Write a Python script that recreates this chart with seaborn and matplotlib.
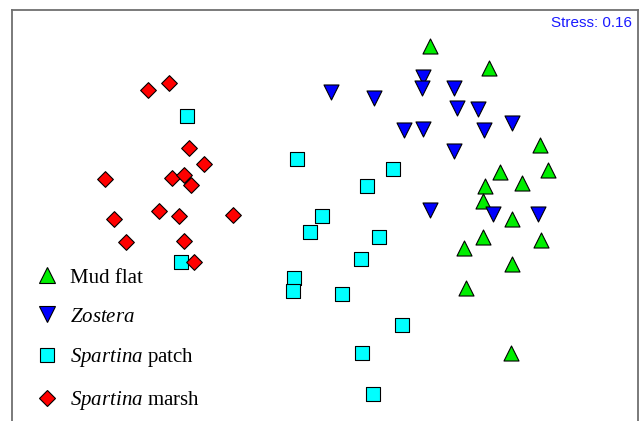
import matplotlib
matplotlib.use("Agg")
import matplotlib.pyplot as plt
from matplotlib.lines import Line2D
import seaborn as sns
import pandas as pd

# ─── NMDS ordination scores ──────────────────────────────────────────────────
GROUPS = ["Mud flat", "Zostera", "Spartina patch", "Spartina marsh"]

mud_x = [1.10, 1.69, 2.20, 2.28, 1.80, 2.02, 1.65, 1.63, 1.92, 1.63, 2.21, 1.44, 1.92, 1.46, 1.91]
mud_y = [1.74, 1.52, 0.75, 0.50, 0.48, 0.37, 0.34, 0.19, 0.01, -0.17, -0.20, -0.28, -0.44, -0.68, -1.33]

zos_x = [0.11, 0.54, 1.03, 1.02, 1.34, 1.37, 1.58, 1.92, 0.84, 1.03, 1.64, 1.34, 1.10, 1.73, 2.18]
zos_y = [1.28, 1.22, 1.43, 1.32, 1.32, 1.12, 1.11, 0.97, 0.90, 0.91, 0.90, 0.69, 0.10, 0.06, 0.06]

patch_x = [-1.33, -0.23, 0.73, 0.47, 0.02, -0.10, 0.59, 0.41, -0.26, -0.27, 0.22, -1.39, 0.82, 0.42, 0.53]
patch_y = [1.04, 0.61, 0.51, 0.34, 0.04, -0.12, -0.17, -0.39, -0.58, -0.71, -0.74, -0.42, -1.05, -1.33, -1.74]

marsh_x = [-1.72, -1.51, -1.31, -1.16, -2.15, -1.48, -1.36, -1.29, -1.61, -1.41, -0.87, -2.06, -1.94, -1.36, -1.26]
marsh_y = [1.30, 1.37, 0.72, 0.56, 0.41, 0.42, 0.45, 0.35, 0.09, 0.04, 0.05, 0.01, -0.22, -0.21, -0.42]

STRESS = 0.16

# ─── Styling ─────────────────────────────────────────────────────────────────
COLORS  = {"Mud flat": "#00ee00", "Zostera": "#0000ff",
           "Spartina patch": "#00ffff", "Spartina marsh": "#ff0000"}
MARKERS = {"Mud flat": "^", "Zostera": "v", "Spartina patch": "s", "Spartina marsh": "D"}
SIZES   = {"Mud flat": 117, "Zostera": 117, "Spartina patch": 110, "Spartina marsh": 64}
LABELS  = {"Mud flat": "Mud flat",
           "Zostera": r"$\mathit{Zostera}$",
           "Spartina patch": r"$\mathit{Spartina}$ patch",
           "Spartina marsh": r"$\mathit{Spartina}$ marsh"}

df = pd.concat([
    pd.DataFrame({"MDS1": mud_x, "MDS2": mud_y, "habitat": "Mud flat"}),
    pd.DataFrame({"MDS1": zos_x, "MDS2": zos_y, "habitat": "Zostera"}),
    pd.DataFrame({"MDS1": patch_x, "MDS2": patch_y, "habitat": "Spartina patch"}),
    pd.DataFrame({"MDS1": marsh_x, "MDS2": marsh_y, "habitat": "Spartina marsh"}),
], ignore_index=True)

sns.set_style("white")
plt.rcParams["font.family"] = ["Liberation Serif", "DejaVu Serif"]
plt.rcParams["mathtext.fontset"] = "custom"
plt.rcParams["mathtext.rm"] = "Liberation Serif"
plt.rcParams["mathtext.it"] = "Liberation Serif:italic"

fig = plt.figure(figsize=(6.4, 4.21), dpi=100)
fig.patch.set_facecolor("white")
ax = fig.add_axes([12 / 640, 0, 626 / 640, 411 / 421])

for g in GROUPS:
    sns.scatterplot(data=df[df["habitat"] == g], x="MDS1", y="MDS2", ax=ax,
                    marker=MARKERS[g], color=COLORS[g], s=SIZES[g],
                    edgecolor="black", linewidth=0.8, legend=False)

ax.set_xlim(-3.08, 3.18)
ax.set_ylim(-2.01, 2.10)
ax.set_xticks([]); ax.set_yticks([])
ax.set_xlabel(""); ax.set_ylabel("")
for side in ["left", "right", "top"]:
    ax.spines[side].set_color("#707070")
    ax.spines[side].set_linewidth(1.3)
ax.spines["bottom"].set_visible(False)

ax.text(0.990, 0.968, f"Stress: {STRESS:.2f}", transform=ax.transAxes,
        ha="right", va="center", color="#1a1aff", fontsize=11,
        family="Liberation Sans")

handles = [Line2D([], [], linestyle="none", marker=MARKERS[g],
                  markerfacecolor=COLORS[g], markeredgecolor="black",
                  markeredgewidth=0.8,
                  markersize=(SIZES[g] ** 0.5))
           for g in GROUPS]
leg = ax.legend(handles, [LABELS[g] for g in GROUPS], loc="upper left",
                bbox_to_anchor=(36.6 / 640, 1 - 268 / 421),
                bbox_transform=fig.transFigure, frameon=False,
                fontsize=15, handlelength=1.0, handletextpad=0.6,
                labelspacing=0.94, borderpad=0, borderaxespad=0,
                labelcolor="black")

fig.savefig("out.png", dpi=100, facecolor="white")
